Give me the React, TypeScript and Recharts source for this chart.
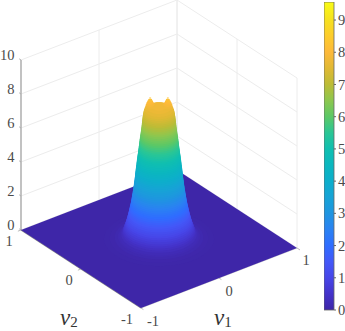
import React from "react";
import { ComposedChart, Area, Line, Scatter, XAxis, YAxis, ReferenceArea } from "recharts";

const zTicks = [0, 2, 4, 6, 8, 10];
const vTicks = [-1, 0, 1];
const barTicks = [0, 1, 2, 3, 4, 5, 6, 7, 8, 9];
const barMax = 9.56;

const colorZ = [0, 0.5, 1, 1.5, 2, 2.5, 3, 3.5, 4, 4.5, 5, 5.5, 6, 6.5, 7, 7.5, 8, 8.5, 9, 9.56];
const colorHex = [
  "#3e26a8", "#4433ca", "#4746e8", "#4358f8", "#2f6dff", "#2a82f2", "#1f95e0", "#17a3d6", "#0daecb", "#0bb7bf",
  "#10bfb0", "#2ac695", "#5cc866", "#8cc74f", "#bcbc36", "#e0b934", "#fdb93a", "#fdcc2c", "#f6e020", "#f9fb15",
];

const peakZ = [
  0.02, 0.05, 0.1, 0.15, 0.2, 0.3, 0.4, 0.5, 0.6, 0.7, 0.8, 0.9, 1, 1.1, 1.2, 1.3, 1.4, 1.5, 1.6, 1.7, 1.8, 1.9, 2, 2.1, 2.2, 2.3,
  2.4, 2.5, 2.6, 2.7, 2.8, 2.9, 3, 3.1, 3.2, 3.3, 3.4, 3.5, 3.6, 3.7, 3.8, 3.9, 4, 4.1, 4.2, 4.3, 4.4, 4.5, 4.6, 4.7, 4.8, 4.9, 5,
  5.1, 5.2, 5.3, 5.4, 5.5, 5.6, 5.7, 5.8, 5.9, 6, 6.1, 6.2, 6.3, 6.4, 6.5, 6.6, 6.7, 6.8, 6.9, 7, 7.1, 7.2, 7.3, 7.4, 7.5, 7.6, 7.7, 7.8,
];
const peakRadius = [
  0.56, 0.5, 0.45, 0.42, 0.405, 0.385, 0.372, 0.366, 0.359, 0.353, 0.346, 0.34, 0.334, 0.329, 0.324, 0.319, 0.314, 0.31, 0.306, 0.302, 0.298, 0.294, 0.29, 0.286, 0.283, 0.28,
  0.277, 0.274, 0.271, 0.268, 0.265, 0.262, 0.26, 0.257, 0.255, 0.253, 0.25, 0.248, 0.246, 0.244, 0.242, 0.24, 0.238, 0.236, 0.233, 0.231, 0.229, 0.227, 0.225, 0.223, 0.22, 0.218, 0.215,
  0.213, 0.211, 0.208, 0.206, 0.204, 0.202, 0.2, 0.197, 0.195, 0.192, 0.19, 0.187, 0.185, 0.183, 0.18, 0.178, 0.176, 0.174, 0.172, 0.17, 0.168, 0.166, 0.163, 0.16, 0.156, 0.145, 0.12, 0.085,
];
const humpZ = [7.6, 7.7, 7.8, 7.9, 8, 8.1, 8.2, 8.3];
const humpRadius = [0.062, 0.056, 0.05, 0.045, 0.038, 0.03, 0.02, 0.01];
const humpOffset = 0.09;

const project = (v1: number, v2: number, z: number) => ({
  x: 159 + 78 * v1 - 60 * v2,
  y: 239 - 30 * v1 - 39 * v2 - 17 * z,
});

const colorAt = (z: number) => {
  let i = 0;
  while (i < colorZ.length - 2 && z > colorZ[i + 1]) i++;
  const t = Math.min(1, (z - colorZ[i]) / (colorZ[i + 1] - colorZ[i]));
  const a = colorHex[i], b = colorHex[i + 1];
  const ch = (k: number) => {
    const p = parseInt(a.substr(k, 2), 16), q = parseInt(b.substr(k, 2), 16);
    return Math.round(p + (q - p) * t);
  };
  return `rgb(${ch(1)},${ch(3)},${ch(5)})`;
};

const uDir = [78 / 98.4, -60 / 98.4];
const wDir = [60 / 98.4, 78 / 98.4];
const discData = (z: number, r: number, off: number) => {
  const pts: { x: number; band: number[] }[] = [];
  const n = 36;
  for (let i = 0; i <= n; i++) {
    const t = Math.PI - (Math.PI * i) / n;
    const c = Math.cos(t), s = Math.sin(t);
    const base1 = off * uDir[0] + r * c * uDir[0], base2 = off * uDir[1] + r * c * uDir[1];
    const up = project(base1 + r * s * wDir[0], base2 + r * s * wDir[1], z);
    const lo = project(base1 - r * s * wDir[0], base2 - r * s * wDir[1], z);
    pts.push({ x: up.x, band: [lo.y, up.y] });
  }
  return pts;
};

const discs = [
  ...peakZ.map((z, i) => ({ z, r: peakRadius[i], off: 0 })),
  ...humpZ.flatMap((z, i) => [
    { z, r: humpRadius[i], off: -humpOffset },
    { z, r: humpRadius[i], off: humpOffset },
  ]),
].sort((a, b) => a.z - b.z);

const pL = project(-1, 1, 0), pB = project(-1, -1, 0), pK = project(1, 1, 0), pR = project(1, -1, 0);
const lerpY = (a: any, b: any, x: number) => a.y + ((b.y - a.y) * (x - a.x)) / (b.x - a.x);
const floorData = [
  { x: pL.x, band: [pL.y, pL.y] },
  { x: pB.x, band: [pB.y, lerpY(pL, pK, pB.x)] },
  { x: pK.x, band: [lerpY(pB, pR, pK.x), pK.y] },
  { x: pR.x, band: [pR.y, pR.y] },
];

const seg = (...p: number[][]) => p.map(([a, b, c]) => project(a, b, c));
const gridLines = [
  ...zTicks.map((z) => seg([-1, 1, z], [1, 1, z], [1, -1, z])),
  ...vTicks.map((v) => seg([v, 1, 0], [v, 1, 10])),
  ...vTicks.map((v) => seg([1, v, 0], [1, v, 10])),
];
const zTickMarks = zTicks.map((z) => seg([-1, 1.03, z], [-1, 1, z]));
const floorTicks = [
  seg([-1, 0, 0], [-1.04, 0, 0]),
  seg([0, -1, 0], [0, -1.04, 0]),
  seg([1, -1, 0], [1, -1.05, 0]),
  seg([-1, -1, 0], [-1, -1.04, 0]),
  seg([-1, 1, 0], [-1.04, 1, 0]),
];

const textItems = [
  ...zTicks.map((z) => ({ ...project(-1, 1, z), label: String(z), dx: -6.5, dy: -5, anchor: "end" })),
  { ...project(-1, 1, 0), label: "1", dx: -12, dy: 11, anchor: "middle" },
  { ...project(-1, 0, 0), label: "0", dx: -12, dy: 11, anchor: "middle" },
  { ...project(-1, -1, 0), label: "-1", dx: -14, dy: 11, anchor: "middle" },
  { ...project(-1, -1, 0), label: "-1", dx: 12, dy: 13, anchor: "middle" },
  { ...project(0, -1, 0), label: "0", dx: 10, dy: 13, anchor: "middle" },
  { ...project(1, -1, 0), label: "1", dx: 9, dy: 12, anchor: "middle" },
];

const fontFace = "'Liberation Serif', serif";
const TextMark = (p: any) => {
  const d = p.payload;
  return (
    <text x={p.cx + d.dx} y={p.cy + d.dy} textAnchor={d.anchor} dominantBaseline="central" fontFamily={fontFace} fontSize={14.5} fill="#4a4a4a">
      {d.label}
    </text>
  );
};
const titleItems = [
  { x: 60, y: 325, sub: "2" },
  { x: 214, y: 325, sub: "1" },
];
const TitleMark = (p: any) => (
  <text x={p.cx} y={p.cy} fontFamily={fontFace} fill="#333">
    <tspan fontStyle="italic" fontSize={23}>v</tspan>
    <tspan fontSize={15} dy={2}>{p.payload.sub}</tspan>
  </text>
);

const barData = [
  { x: 0, z: barMax },
  { x: 1, z: barMax },
];

const layer: React.CSSProperties = { position: "absolute", left: 0, top: 0 };
const flat = { top: 0, right: 0, bottom: 0, left: 0 };

export default function App() {
  return (
    <div style={{ position: "absolute", left: 0, top: 0, width: 345, height: 331 }}>
      <div style={layer}>
        <ComposedChart width={345} height={331} margin={flat} data={floorData}>
          <XAxis type="number" dataKey="x" domain={[0, 345]} hide allowDataOverflow />
          <YAxis type="number" domain={[0, 331]} reversed hide allowDataOverflow />
          {gridLines.map((d, i) => (
            <Line key={"g" + i} data={d} dataKey="y" stroke="#ececec" strokeWidth={1} dot={false} activeDot={false} isAnimationActive={false} />
          ))}
          {zTickMarks.map((d, i) => (
            <Line key={"t" + i} data={d} dataKey="y" stroke="#8c8c8c" strokeWidth={0.7} dot={false} activeDot={false} isAnimationActive={false} />
          ))}
          <Line data={seg([-1, 1, 0], [-1, 1, 10])} dataKey="y" stroke="#b0b0b0" strokeWidth={1.5} dot={false} activeDot={false} isAnimationActive={false} />
          <Line data={seg([-1, 1, 0], [-1, -1, 0])} dataKey="y" stroke="#8a8a8a" strokeWidth={1.2} dot={false} activeDot={false} isAnimationActive={false} />
          <Line data={seg([-1, -1, 0], [1, -1, 0])} dataKey="y" stroke="#cfcfcf" strokeWidth={1} dot={false} activeDot={false} isAnimationActive={false} />
          {floorTicks.map((d, i) => (
            <Line key={"f" + i} data={d} dataKey="y" stroke="#a8a8a8" strokeWidth={0.8} dot={false} activeDot={false} isAnimationActive={false} />
          ))}
        </ComposedChart>
      </div>
      <div style={layer}>
        <ComposedChart width={345} height={331} margin={flat} data={floorData}>
          <XAxis type="number" dataKey="x" domain={[0, 345]} hide allowDataOverflow />
          <YAxis type="number" domain={[0, 331]} reversed hide allowDataOverflow />
          <Area data={floorData} dataKey="band" fill={colorHex[0]} fillOpacity={1} stroke="none" dot={false} activeDot={false} isAnimationActive={false} />
          {discs.map((d, i) => (
            <Area key={"d" + i} data={discData(d.z, d.r, d.off)} dataKey="band" fill={colorAt(d.z)} fillOpacity={1} stroke="none" dot={false} activeDot={false} isAnimationActive={false} />
          ))}
          <Scatter data={textItems} dataKey="y" shape={TextMark} isAnimationActive={false} />
          <Scatter data={titleItems} dataKey="y" shape={TitleMark} isAnimationActive={false} />
        </ComposedChart>
      </div>
      <div style={{ position: "absolute", left: 324, top: 2 }}>
        <ComposedChart width={21} height={325} margin={{ top: 0, right: 0, bottom: 17, left: 0 }} data={barData}>
          <defs>
            <linearGradient id="barFill" x1="0" y1="1" x2="0" y2="0">
              {colorZ.map((z, i) => (
                <stop key={i} offset={z / barMax} stopColor={colorHex[i]} />
              ))}
            </linearGradient>
          </defs>
          <XAxis type="number" dataKey="x" domain={[0, 1]} hide />
          <YAxis
            orientation="right"
            type="number"
            width={11}
            domain={[0, barMax]}
            ticks={barTicks}
            interval={0}
            axisLine={false}
            tickSize={2}
            tickMargin={2}
            tickLine={{ stroke: "#666" }}
            tick={{ fontFamily: fontFace, fontSize: 14.5, fill: "#4a4a4a" }}
          />
          <Area dataKey="z" fill="url(#barFill)" fillOpacity={1} stroke="none" dot={false} activeDot={false} isAnimationActive={false} />
          <ReferenceArea x1={0} x2={1} y1={0} y2={barMax} fill="none" stroke="#666" strokeWidth={0.8} />
        </ComposedChart>
      </div>
    </div>
  );
}
